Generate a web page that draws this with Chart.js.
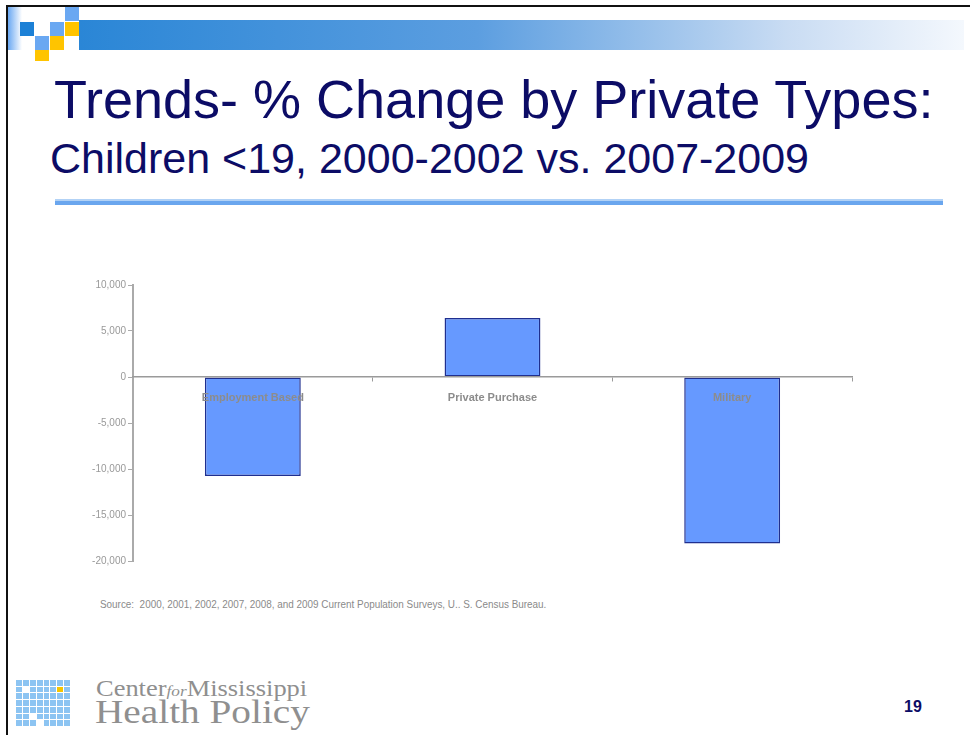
<!DOCTYPE html>
<html>
<head>
<meta charset="utf-8">
<script src="https://cdn.jsdelivr.net/npm/chart.js@4.4.1/dist/chart.umd.min.js"></script>
<style>
  html, body { margin: 0; padding: 0; background: #fff; }
  #slide { position: relative; width: 973px; height: 735px; overflow: hidden; font-family: "Liberation Sans", Arial, sans-serif; }
  .abs { position: absolute; }
  #frameTop { left: 6px; top: 5px; width: 964px; height: 2px; background: #111; }
  #frameLeft { left: 6px; top: 5px; width: 2px; height: 730px; background: #111; }
  #edgeFade { left: 8px; top: 7px; width: 14px; height: 43px; background: linear-gradient(to right, #6aa8f2, #fff); }
  #band { left: 79px; top: 20px; width: 885px; height: 30px; background: linear-gradient(to right, #2a86d6, #5c9ee0 45%, #c9dcf3 80%, #f4f8fd); }
  .sq { position: absolute; width: 14px; height: 14px; }
  .title { color: #0c0c66; white-space: nowrap; }
  #title1 { left: 54px; top: 68px; font-size: 54px; }
  #title2 { left: 50px; top: 134px; font-size: 43px; }
  #rule1 { left: 55px; top: 199px; width: 888px; height: 2px; background: #b2d2f6; }
  #rule2 { left: 55px; top: 201px; width: 888px; height: 4px; background: #6aa6ee; }
  #chartBox { left: 60px; top: 270px; width: 810px; height: 305px; }
  #source { left: 100px; top: 598px; font-size: 11px; color: #8a8a8a; white-space: nowrap; transform: scaleX(0.9); transform-origin: 0 0; }
  #grid { left: 16px; top: 680px; width: 54px; height: 46px; display: grid; grid-template-columns: repeat(8, 1fr); grid-template-rows: repeat(7, 1fr); gap: 1px; }
  #grid div { background: #8cc4f2; }
  #logo1 { left: 96px; top: 676px; font-family: "Liberation Serif", serif; font-size: 23px; color: #8f8f8f; white-space: nowrap; transform: scaleX(1.15); transform-origin: 0 0; }
  #logo1 i { font-size: 15px; }
  #logo2 { left: 95px; top: 694px; font-family: "Liberation Serif", serif; font-size: 33px; color: #8f8f8f; white-space: nowrap; transform: scaleX(1.19); transform-origin: 0 0; }
  #pageNo { left: 904px; top: 698px; font-size: 16px; font-weight: bold; color: #0c0c66; }
</style>
</head>
<body>
<div id="slide">
  <div class="abs" id="frameTop"></div>
  <div class="abs" id="frameLeft"></div>
  <div class="abs" id="edgeFade"></div>
  <div class="abs" id="band"></div>
  <div class="sq" style="left:65px;top:7px;background:#6aa8f2"></div>
  <div class="sq" style="left:20px;top:22px;background:#1c80d6"></div>
  <div class="sq" style="left:50px;top:22px;background:#6aa8f2"></div>
  <div class="sq" style="left:65px;top:22px;background:#ffc400"></div>
  <div class="sq" style="left:35px;top:36px;background:#6aa8f2"></div>
  <div class="sq" style="left:50px;top:36px;background:#ffc400"></div>
  <div class="sq" style="left:35px;top:50px;height:11px;background:#ffc400"></div>

  <div class="abs title" id="title1">Trends- % Change by Private Types:</div>
  <div class="abs title" id="title2">Children &lt;19, 2000-2002 vs. 2007-2009</div>
  <div class="abs" id="rule1"></div>
  <div class="abs" id="rule2"></div>

  <div class="abs" id="chartBox"><canvas id="mycanvas"></canvas></div>

  <div class="abs" id="source">Source:&nbsp; 2000, 2001, 2002, 2007, 2008, and 2009 Current Population Surveys, U.. S. Census Bureau.</div>

  <div class="abs" id="grid"></div>
  <div class="abs" id="logo1">Center<i>for</i>Mississippi</div>
  <div class="abs" id="logo2">Health Policy</div>
  <div class="abs" id="pageNo">19</div>
</div>

<script>
// change in number of children covered, by private insurance type
var types = ["Employment Based", "Private Purchase", "Military"];
var change = [-10750, 6400, -18100];
var yTicks = [10000, 5000, 0, -5000, -10000, -15000, -20000];

// logo squares: a few blank cells and one yellow one
var blanks = [9, 42, 51];
var grid = document.getElementById("grid");
for (var i = 0; i < 56; i++) {
    var c = document.createElement("div");
    if (blanks.indexOf(i) >= 0) c.style.background = "#fff";
    if (i === 14) c.style.background = "#f5c400";
    grid.appendChild(c);
}

var chartdata = {
    labels: types,
    datasets: [
        {
            backgroundColor: "#6699ff",
            borderColor: "#1f2f8f",
            borderWidth: 1.5,
            borderSkipped: false,
            barPercentage: 0.4,
            categoryPercentage: 1,
            data: change
        }
    ]
};

var ctx = document.getElementById("mycanvas");
var myBarChart = new Chart(ctx, {
    type: 'bar',
    data: chartdata,
    options: {
        responsive: true,
        maintainAspectRatio: false,
        animation: false,
        layout: { padding: { top: 15, right: 18, bottom: 14, left: 0 } },
        plugins: { legend: { display: false }, tooltip: { enabled: false } },
        scales: {
            x: {
                position: { y: 0 },
                offset: true,
                border: { color: "#9a9a9a", width: 1.5, z: 1 },
                grid: { drawOnChartArea: false, tickLength: 4, color: "#9a9a9a", offset: true },
                ticks: {
                    z: 1,
                    padding: 10,
                    color: "#8c8c8c",
                    font: { family: "Liberation Sans", size: 11, weight: "bold" }
                }
            },
            y: {
                min: -20000,
                max: 10000,
                afterFit: function(scale) { scale.width = 73; },
                afterBuildTicks: function(scale) {
                    scale.ticks = yTicks.map(function(v) { return { value: v }; });
                },
                border: { color: "#aaaaaa", width: 2 },
                grid: { drawOnChartArea: false, tickLength: 5, color: "#aaaaaa" },
                ticks: {
                    padding: 2,
                    color: "#999999",
                    font: { family: "Liberation Sans", size: 10 },
                    callback: function(v) { return v.toLocaleString("en-US"); }
                }
            }
        }
    }
});
</script>
</body>
</html>
